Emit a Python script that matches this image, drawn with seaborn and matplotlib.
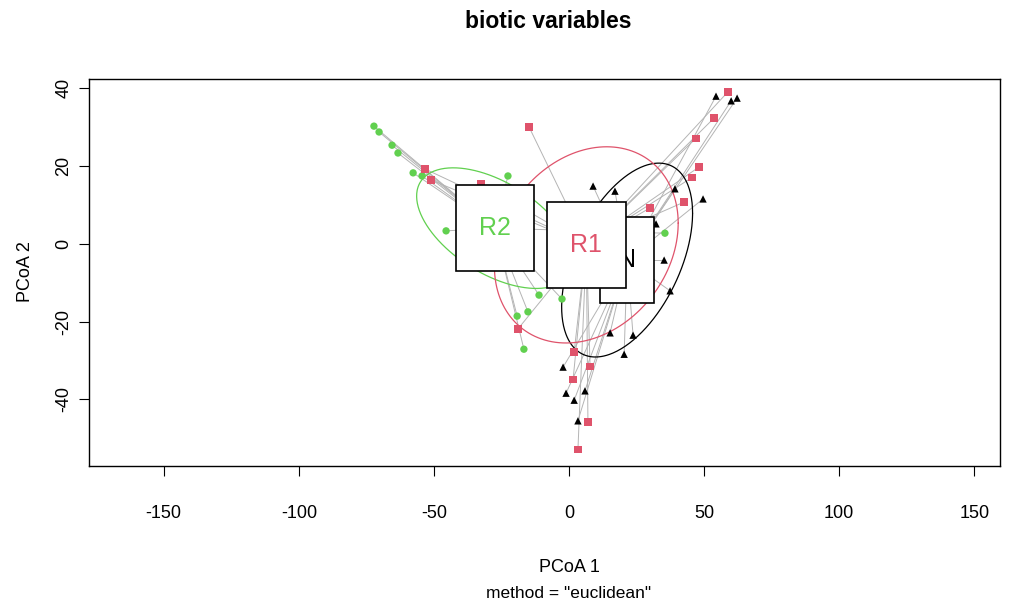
import numpy as np
import pandas as pd
import matplotlib
matplotlib.use("Agg")
import matplotlib.pyplot as plt
from matplotlib import font_manager
from matplotlib.patches import Rectangle
import seaborn as sns

# PCoA site scores (axis 1, axis 2) for each group
r2_x = [-72.2, -70.3, -65.5, -63.3, -57.7, -54.4, -22.6, -45.5, -11.1, -2.6, -19.2, -15.2, -16.7, 35.5]
r2_y = [30.2, 28.7, 25.3, 23.3, 18.2, 17.4, 17.4, 3.3, -13.2, -14.2, -18.6, -17.5, -27.1, 2.7]

r1_x = [-53.3, -51.1, -14.8, -32.6, 58.8, 53.7, 47.0, 48.1, 45.5, 42.6, 30.0, -18.9, 1.9, 7.8, 1.5, 7.0, 3.3]
r1_y = [19.2, 16.4, 30.0, 15.3, 39.0, 32.3, 27.1, 19.7, 17.0, 10.7, 9.2, -21.9, -27.8, -31.6, -34.9, -45.8, -52.9]

n_x = [54.4, 60.0, 62.2, 8.9, 17.0, 39.2, 49.6, 32.2, 35.2, 37.4, 15.2, 23.7, 20.4, -2.2, -1.1, 1.9, 5.9, 3.3]
n_y = [37.9, 36.7, 37.4, 14.8, 13.5, 14.1, 11.5, 5.1, -4.2, -12.1, -22.9, -23.5, -28.4, -31.7, -38.4, -40.2, -37.8, -45.5]

# group centroids
groups = ["R2", "N", "R1"]
centroid_x = {"R2": -27.5, "R1": 6.4, "N": 21.5}
centroid_y = {"R2": 4.0, "R1": -0.3, "N": -4.2}

# dispersion ellipse covariances (1 s.d.)
ellipse_cov = {
    "R2": [[835.0, -238.0], [-238.0, 240.0]],
    "R1": [[1156.0, 190.0], [190.0, 635.0]],
    "N": [[587.0, 292.0], [292.0, 620.0]],
}

x_ticks = [-150, -100, -50, 0, 50, 100, 150]
y_ticks = [-40, -20, 0, 20, 40]

colors = {"N": "#000000", "R1": "#DF536B", "R2": "#61D04F"}
markers = {"N": "^", "R1": "s", "R2": "o"}

df = pd.concat([
    pd.DataFrame({"PCoA1": r2_x, "PCoA2": r2_y, "group": "R2"}),
    pd.DataFrame({"PCoA1": r1_x, "PCoA2": r1_y, "group": "R1"}),
    pd.DataFrame({"PCoA1": n_x, "PCoA2": n_y, "group": "N"}),
], ignore_index=True)

sns.set_style("white")
names = {f.name for f in font_manager.fontManager.ttflist}
family = "Liberation Sans Narrow" if "Liberation Sans Narrow" in names else "Liberation Sans"
plt.rcParams["font.family"] = [family, "DejaVu Sans"]
plt.rcParams["text.color"] = "black"

fig = plt.figure(figsize=(10.13, 6.12), dpi=100)
ax = fig.add_axes([89 / 1013, 1 - 466 / 612, (1000 - 89) / 1013, (466 - 79) / 612])

# spokes from each site to its group centroid
for _, row in df.iterrows():
    g = row["group"]
    ax.plot([row["PCoA1"], centroid_x[g]], [row["PCoA2"], centroid_y[g]],
            color="#B4B4B4", lw=0.7, zorder=1)

sns.scatterplot(data=df, x="PCoA1", y="PCoA2", hue="group", style="group",
                palette=colors, markers=markers, s=28, linewidth=0,
                legend=False, ax=ax, zorder=3)

# s.d. ellipses around centroids
t = np.linspace(0, 2 * np.pi, 300)
for g in groups:
    L = np.linalg.cholesky(np.array(ellipse_cov[g]))
    pts = L @ np.vstack([np.cos(t), np.sin(t)])
    ax.plot(pts[0] + centroid_x[g], pts[1] + centroid_y[g], color=colors[g],
            lw=0.9, zorder=2)

# centroid labels in framed boxes
box_w = {"R2": 29.0, "R1": 29.2, "N": 20.0}
box_h = 22.1
for i, g in enumerate(groups):
    cx, cy = centroid_x[g], centroid_y[g]
    z = 5 + i
    ax.add_patch(Rectangle((cx - box_w[g] / 2, cy - box_h / 2), box_w[g], box_h,
                           facecolor="white", edgecolor="black", lw=1.2, zorder=z))
    ax.text(cx, cy, g, color=colors[g], fontsize=18, ha="center", va="center",
            zorder=z + 0.5)

ax.set_xlim(-177.65, 159.5)
ax.set_ylim(-57.1, 42.31)
ax.set_xticks(x_ticks)
ax.set_xticklabels([str(v) for v in x_ticks])
ax.set_yticks(y_ticks)
ax.set_yticklabels([str(v) for v in y_ticks], rotation=90, va="center")
ax.tick_params(axis="both", direction="out", length=7, width=0.8, colors="black",
               labelcolor="black", labelsize=13, bottom=True, left=True)
ax.tick_params(axis="x", pad=21)
ax.tick_params(axis="y", pad=5)
for sp in ax.spines.values():
    sp.set_color("black")
    sp.set_linewidth(1.0)

ax.set_xlabel("")
ax.set_ylabel("")
fig.text(569 / 1013, 1 - 567 / 612, "PCoA 1", ha="center", va="center", fontsize=13)
fig.text(569 / 1013, 1 - 593 / 612, 'method = "euclidean"', ha="center", va="center", fontsize=12.5)
fig.text(25 / 1013, 1 - 272 / 612, "PCoA 2", ha="center", va="center", fontsize=13, rotation=90)
fig.text(548 / 1013, 1 - 22 / 612, "biotic variables", ha="center", va="center",
         fontsize=16.5, fontweight="bold")

fig.savefig("out.png", dpi=100)
